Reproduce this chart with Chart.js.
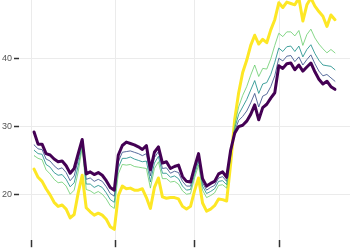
<!DOCTYPE html>
<html>
<head>
<meta charset="utf-8">
<script src="https://cdn.jsdelivr.net/npm/chart.js@4"></script>
<style>
  html, body { margin: 0; padding: 0; background: #fff; overflow: hidden; }
  #wrap { width: 350px; height: 270px; margin-top: -8px; }
</style>
</head>
<body>
<div id="wrap"><canvas id="chart"></canvas></div>
<script>
// tick positions (in point index units) and labels
const xTicks = [-0.75, 20.25, 40, 61.25];
const xLabels = ["2000", "2005", "2010", "2015"];
const yTicks = [20, 30, 40];

// series, one value per period
const purple = [29.2,27.4,27.4,26.0,25.8,25.2,24.8,24.9,24.2,23.1,23.8,26.0,28.1,23.0,23.3,22.9,23.2,22.8,22.0,21.0,
  20.6,25.8,27.2,27.7,27.5,27.3,27.0,26.6,27.2,23.6,26.2,27.0,24.6,24.8,23.8,24.1,24.3,22.6,21.9,21.8,
  24.0,26.0,22.3,21.2,21.6,21.9,23.0,23.3,22.5,26.5,29.0,30.0,30.2,30.8,31.8,33.2,31.0,32.8,33.3,34.2,
  35.0,39.0,38.6,39.3,39.4,38.4,39.1,38.2,38.8,39.4,38.1,37.0,36.3,36.7,35.9,35.5];
const blue = [27.3,26.7,26.6,25.2,24.9,24.2,23.7,23.9,23.2,22.0,22.7,25.1,27.7,22.2,22.4,21.9,22.2,21.9,21.1,20.1,
  19.7,24.8,26.2,26.3,26.4,26.2,26.0,25.7,26.0,22.7,25.4,26.3,23.8,23.9,23.1,23.4,23.2,21.9,21.2,21.2,
  23.4,25.4,21.7,20.6,21.0,21.3,22.4,22.6,21.9,26.2,29.3,30.9,31.5,32.3,33.5,34.9,32.9,34.5,34.8,35.9,
  37.5,40.1,39.7,40.4,40.5,39.6,40.3,39.1,39.9,40.6,39.3,38.2,37.5,37.7,37.2,36.7];
const teal = [26.5,26.0,25.9,24.4,24.0,23.2,22.8,22.9,22.2,21.1,21.7,24.2,27.3,21.5,21.5,21.0,21.3,21.0,20.2,19.2,
  18.8,23.9,25.3,25.3,25.5,25.2,25.0,24.8,24.9,21.8,24.6,25.6,23.1,23.1,22.5,22.7,22.3,21.2,20.6,20.7,
  22.9,24.9,21.2,20.1,20.4,20.8,21.9,22.0,21.4,25.8,29.7,31.8,32.9,34.0,35.4,36.8,34.9,36.3,36.5,37.7,
  39.5,41.6,41.1,41.8,41.9,41.1,41.9,40.3,41.4,42.1,40.8,39.8,39.1,39.0,38.9,38.4];
const green = [25.7,25.3,25.1,23.6,23.0,22.2,21.7,21.8,21.2,20.0,20.6,23.3,26.9,20.7,20.5,20.1,20.4,20.0,19.3,18.3,
  17.9,23.0,24.4,24.3,24.4,24.1,24.0,23.9,23.8,20.9,23.8,24.8,22.3,22.3,21.8,21.9,21.5,20.5,20.0,20.1,
  22.4,24.3,20.6,19.5,19.8,20.2,21.3,21.4,20.9,25.4,30.1,32.9,34.6,35.9,37.6,39.1,37.4,38.6,38.5,40.0,
  42.0,43.8,43.3,44.0,44.0,43.4,44.2,42.0,43.6,44.4,43.1,42.2,41.5,40.9,41.4,40.9];
const yellow = [23.7,22.5,21.9,20.8,19.9,18.8,18.2,18.4,17.8,16.5,17.0,20.2,22.8,18.0,17.4,16.9,17.2,16.9,16.3,15.2,
  14.8,19.8,21.2,20.8,20.9,20.6,20.6,20.8,19.5,17.9,21.0,22.4,19.6,19.4,19.5,19.5,19.3,18.2,17.8,18.2,
  20.5,22.4,18.7,17.5,17.8,18.3,19.3,19.2,19.0,24.5,31.0,35.0,38.0,39.8,42.0,43.5,42.2,42.9,42.4,44.3,
  45.8,48.3,47.6,48.4,48.2,48.0,49.0,45.6,48.0,49.0,47.8,47.0,46.3,44.8,46.5,45.8];

function toPoints(arr) {
  return arr.map((v, i) => ({ x: i, y: v }));
}

function line(label, arr, color, width, order) {
  return {
    label: label,
    data: toPoints(arr),
    borderColor: color,
    borderWidth: width,
    pointRadius: 0,
    tension: 0,
    borderJoinStyle: 'round',
    borderCapStyle: 'round',
    fill: false,
    order: order
  };
}

new Chart(document.getElementById('chart').getContext('2d'), {
  type: 'line',
  data: {
    datasets: [
      line('p', purple, '#440154', 3, 0),
      line('b', blue, 'rgba(59,82,139,0.85)', 1, 3),
      line('t', teal, 'rgba(33,144,140,0.85)', 1, 2),
      line('g', green, 'rgba(94,201,98,0.75)', 1, 1),
      line('y', yellow, '#fde725', 3, 4)
    ]
  },
  options: {
    responsive: true,
    maintainAspectRatio: false,
    animation: false,
    layout: { padding: 0 },
    plugins: { legend: { display: false }, tooltip: { enabled: false } },
    scales: {
      x: {
        type: 'linear',
        min: -3.75,
        max: 78.75,
        afterBuildTicks: axis => { axis.ticks = xTicks.map(v => ({ value: v })); },
        ticks: {
          autoSkip: false,
          maxRotation: 0,
          padding: 2,
          color: '#555',
          font: { family: 'Liberation Sans', size: 9 },
          callback: (v, i) => xLabels[i]
        },
        grid: { color: '#ebebeb', lineWidth: 1, tickColor: '#333', tickLength: 7, tickWidth: 1.5 },
        border: { display: false }
      },
      y: {
        min: 13.2,
        max: 48.8,
        afterBuildTicks: axis => { axis.ticks = yTicks.map(v => ({ value: v })); },
        ticks: {
          padding: 2,
          color: '#555',
          font: { family: 'Liberation Sans', size: 9 }
        },
        grid: { color: '#ebebeb', lineWidth: 1, tickColor: '#333', tickLength: 5, tickWidth: 1.5 },
        border: { display: false }
      }
    }
  }
});
</script>
</body>
</html>
